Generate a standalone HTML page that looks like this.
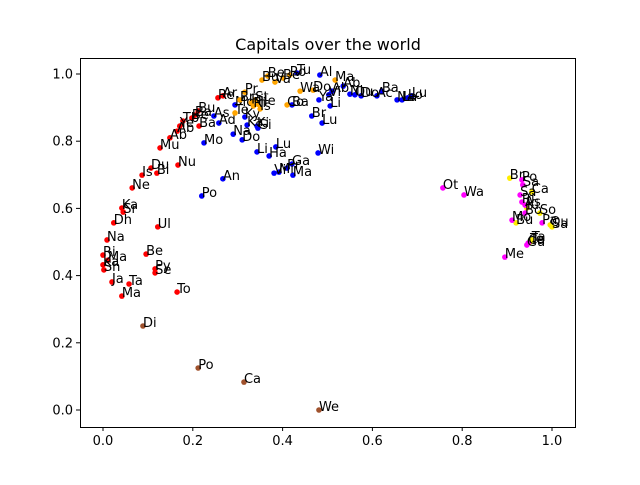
<!DOCTYPE html>
<html><head><meta charset="utf-8"><style>
body{margin:0;background:#fff}
svg text{font-family:"DejaVu Sans","Liberation Sans",sans-serif}
</style></head><body>
<svg id="chart" width="640" height="480" viewBox="0 0 640 480" xmlns="http://www.w3.org/2000/svg">
<rect width="640" height="480" fill="#fff"/>
<text x="328" y="50" text-anchor="middle" font-size="16">Capitals over the world</text>
<g id="ticks"></g>
<g id="points"></g>
<rect x="80.5" y="58.5" width="495" height="369" fill="none" stroke="#000" stroke-width="1"/>
</svg>
<script>
const xTicks=[0,0.2,0.4,0.6,0.8,1.0];
const yTicks=[0,0.2,0.4,0.6,0.8,1.0];
const redX=[.256,.267,.212,.205,.198,.214,.178,.171,.165,.149,.127,.107,.120,.167,.087,.065,.042,.045,.024,.122,.009,.096,0,.011,0,.002,.020,.058,.042,.116,.116,.165];
const redY=[.929,.935,.890,.878,.869,.845,.860,.845,.830,.810,.780,.720,.705,.729,.699,.661,.601,.589,.557,.545,.506,.464,.461,.446,.432,.417,.381,.375,.339,.420,.408,.351];
const redL=["Re","Ar","Bu","Ba","Be","Ba","Tb","Ye","Ab","Ab","Mu","Du","Bi","Nu","Is","Ne","Ka","Sr","Dh","Ul","Na","Be","Ri","Ma","Ka","Sh","Ja","Ta","Ma","Py","Se","To"];
const brownX=[.089,.212,.314,.481];
const brownY=[.250,.125,.083,0];
const brownL=["Di","Po","Ca","We"];
const blueX=[.220,.267,.225,.290,.310,.321,.345,.343,.258,.247,.294,.316,.343,.370,.385,.479,.381,.392,.410,.423,.421,.465,.488,.481,.506,.503,.510,.550,.561,.575,.610,.621,.655,.666,.679,.688,.421,.483,.432,.535];
const blueY=[.637,.688,.795,.821,.804,.848,.839,.845,.854,.875,.908,.872,.768,.756,.783,.765,.705,.708,.720,.699,.732,.875,.854,.923,.905,.938,.949,.940,.938,.935,.935,.949,.923,.923,.929,.935,.908,.997,1.003,.964];
const blueL=["Po","An","Mo","Na","Do","Ka","Gi","Ki","Ad","As","Mo","Ky","Li","Ha","Lu","Wi","Vi","Mi","Pr","Ma","Ga","Br","Lu","Ya","Li","Vi","Ab","Ni","Ou","Do","Ac","Ba","Na","La","Lo","Lu","Ba","Al","Tu","Ab"];
const orangeX=[.294,.350,.339,.410,.468,.517,.401,.416,.367,.439,.330,.335,.345,.316,.354,.383,.305];
const orangeY=[.884,.896,.923,.908,.952,.982,.988,.997,.994,.949,.915,.905,.910,.946,.982,.976,.923];
const orangeL=["Te","Is","St","Co","Do","Ma","Be","Ro","Be","Wa","Ri","Ri","He","Pr","Bu","Va","Br"];
const yellowX=[.906,.955,.944,.973,.920,.996,1.0,.955,.951];
const yellowY=[.690,.649,.601,.586,.557,.551,.545,.506,.500];
const yellowL=["Br","Ca","Ki","So","Bu","Qu","Sa","Ta","Te"];
const magentaX=[.933,.935,.929,.933,.940,.940,.911,.978,.947,.944,.895,.757,.804];
const magentaY=[.685,.670,.640,.619,.610,.586,.565,.557,.497,.491,.455,.661,.640];
const magentaL=["Po","Sa","Sa","Ri","As","Bo","Mo","Pa","Ca","Gu","Me","Ot","Wa"];

const X0=80,X1=576,Y0=58,Y1=427;
const sx=v=>103+449*v;
const sy=v=>410-336*v;
const NS="http://www.w3.org/2000/svg";
const tg=document.getElementById('ticks');
const pg=document.getElementById('points');
function mk(tag,attrs,parent){const e=document.createElementNS(NS,tag);for(const k in attrs)e.setAttribute(k,attrs[k]);parent.appendChild(e);return e;}
xTicks.forEach(v=>{
  const l=mk('line',{x1:sx(v),x2:sx(v),y1:Y1,y2:Y1+4,stroke:'#000'},tg);
  
  
  const t=mk('text',{x:sx(v),y:Y1+18,'text-anchor':'middle','font-size':'13'},tg);
  t.textContent=v.toFixed(1);
  
  
});
yTicks.forEach(v=>{
  const l=mk('line',{x1:X0-4,x2:X0,y1:sy(v),y2:sy(v),stroke:'#000'},tg);
  
  
  const t=mk('text',{x:X0-7,y:sy(v)+4.5,'text-anchor':'end','font-size':'13'},tg);
  t.textContent=v.toFixed(1);
  
  
});
function series(xs,ys,ls,color,name){
  xs.forEach((x,i)=>{
    const c=mk('circle',{cx:sx(x),cy:sy(ys[i]),r:2.8,fill:color},pg);
    
    
  });
  xs.forEach((x,i)=>{
    const t=mk('text',{x:sx(x),y:sy(ys[i])+1,'font-size':'13',fill:'#000'},pg);
    t.textContent=ls[i];
    
    
  });
}
series(redX,redY,redL,'#ff0000','red');
series(brownX,brownY,brownL,'#a0522d','brown');
series(blueX,blueY,blueL,'#0000ff','blue');
series(orangeX,orangeY,orangeL,'#ffa500','orange');
series(yellowX,yellowY,yellowL,'#ffee00','yellow');
series(magentaX,magentaY,magentaL,'#ff00ff','magenta');
</script>
</body></html>
